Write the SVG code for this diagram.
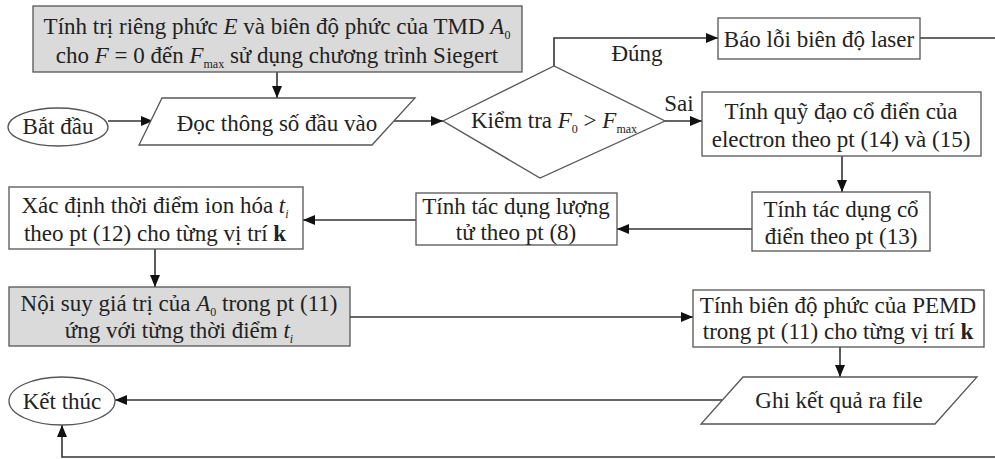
<svg xmlns="http://www.w3.org/2000/svg" width="995" height="459" viewBox="0 0 995 459" font-family="'Liberation Serif', 'DejaVu Serif', serif">
  <defs>
    <marker id="arrow" viewBox="0 0 12 10" refX="12" refY="5" markerWidth="12" markerHeight="10" markerUnits="userSpaceOnUse" orient="auto">
      <path d="M0,0 L12,5 L0,10 Z" fill="#111"/>
    </marker>
    <style>
      .box { fill: #ffffff; stroke: #555555; stroke-width: 1.3; }
      .grey { fill: #dadada; stroke: #555555; stroke-width: 1.3; }
      .edge { fill: none; stroke: #333333; stroke-width: 1.6; }
      .arr { marker-end: url(#arrow); }
      .t { font-family: 'Liberation Serif', 'DejaVu Serif', serif; font-size: 23px; fill: #222222; text-anchor: middle; }
      .it { font-style: italic; }
      .sub { font-size: 12px; }
      .b { font-weight: bold; }
    </style>
  </defs>
  <rect width="995" height="459" fill="#ffffff"/>

  <!-- connectors -->
  <g id="connectors">
    <line class="edge arr" x1="277" y1="72" x2="277" y2="98"/>
    <line class="edge arr" x1="108" y1="121" x2="153" y2="121"/>
    <line class="edge arr" x1="393" y1="121" x2="443" y2="121"/>
    <polyline class="edge arr" points="554,66 554,38 718,38"/>
    <line class="edge arr" x1="665" y1="121" x2="702" y2="121"/>
    <line class="edge" x1="920" y1="38" x2="995" y2="38"/>
    <line class="edge arr" x1="842" y1="156" x2="842" y2="192"/>
    <line class="edge arr" x1="752" y1="229" x2="617" y2="229"/>
    <line class="edge arr" x1="416" y1="220" x2="303" y2="220"/>
    <line class="edge arr" x1="155" y1="249" x2="155" y2="287"/>
    <line class="edge arr" x1="350" y1="317" x2="693" y2="317"/>
    <line class="edge arr" x1="840" y1="347" x2="840" y2="377"/>
    <line class="edge arr" x1="722" y1="400" x2="115" y2="400"/>
    <polyline class="edge arr" points="995,457 62,457 62,425"/>
  </g>

  <!-- nodes -->
  <g id="siegert">
    <rect class="grey" x="33" y="6" width="489" height="66"/>
    <text class="t" x="277" y="34">Tính trị riêng phức <tspan class="it">E</tspan> và biên độ phức của TMD <tspan class="it">A</tspan><tspan class="sub" dy="5">0</tspan></text>
    <text class="t" x="277" y="63">cho <tspan class="it">F</tspan> = 0 đến <tspan class="it">F</tspan><tspan class="sub" dy="5">max</tspan><tspan dy="-5"> sử dụng chương trình Siegert</tspan></text>
  </g>

  <g id="start">
    <ellipse class="box" cx="58" cy="127" rx="50" ry="19"/>
    <text class="t" x="58" y="134">Bắt đầu</text>
  </g>

  <g id="input">
    <polygon class="box" points="162,98 415,98 372,145 139,145"/>
    <text class="t" x="277" y="131">Đọc thông số đầu vào</text>
  </g>

  <g id="check">
    <polygon class="box" points="443,121 554,66 665,121 540,178"/>
    <text class="t" x="554" y="128">Kiểm tra <tspan class="it">F</tspan><tspan class="sub" dy="5">0</tspan><tspan dy="-5"> &gt; </tspan><tspan class="it">F</tspan><tspan class="sub" dy="5">max</tspan></text>
    <text class="t" x="637" y="61">Đúng</text>
    <text class="t" x="679" y="111">Sai</text>
  </g>

  <g id="error">
    <rect class="box" x="718" y="18" width="202" height="41"/>
    <text class="t" x="819" y="47">Báo lỗi biên độ laser</text>
  </g>

  <g id="trajectory">
    <rect class="box" x="702" y="92" width="279" height="64"/>
    <text class="t" x="841" y="119">Tính quỹ đạo cổ điển của</text>
    <text class="t" x="841" y="147">electron theo pt (14) và (15)</text>
  </g>

  <g id="classical-action">
    <rect class="box" x="752" y="192" width="178" height="59"/>
    <text class="t" x="841" y="217">Tính tác dụng cổ</text>
    <text class="t" x="841" y="244">điển theo pt (13)</text>
  </g>

  <g id="quantum-action">
    <rect class="box" x="416" y="193" width="201" height="52"/>
    <text class="t" x="516" y="214">Tính tác dụng lượng</text>
    <text class="t" x="516" y="240">tử theo pt (8)</text>
  </g>

  <g id="ionization-time">
    <rect class="box" x="9" y="187" width="294" height="62"/>
    <text class="t" x="155" y="213">Xác định thời điểm ion hóa <tspan class="it">t</tspan><tspan class="sub it" dy="5">i</tspan></text>
    <text class="t" x="155" y="241">theo pt (12) cho từng vị trí <tspan class="b">k</tspan></text>
  </g>

  <g id="interpolate">
    <rect class="grey" x="9" y="287" width="341" height="59"/>
    <text class="t" x="179" y="311">Nội suy giá trị của <tspan class="it">A</tspan><tspan class="sub" dy="5">0</tspan><tspan dy="-5"> trong pt (11)</tspan></text>
    <text class="t" x="179" y="338">ứng với từng thời điểm <tspan class="it">t</tspan><tspan class="sub it" dy="5">i</tspan></text>
  </g>

  <g id="pemd">
    <rect class="box" x="693" y="290" width="291" height="57"/>
    <text class="t" x="838" y="313">Tính biên độ phức của PEMD</text>
    <text class="t" x="838" y="339">trong pt (11) cho từng vị trí <tspan class="b">k</tspan></text>
  </g>

  <g id="output">
    <polygon class="box" points="743,377 977,377 935,424 701,424"/>
    <text class="t" x="839" y="408">Ghi kết quả ra file</text>
  </g>

  <g id="end">
    <ellipse class="box" cx="62" cy="401" rx="53" ry="24"/>
    <text class="t" x="62" y="409">Kết thúc</text>
  </g>
</svg>
